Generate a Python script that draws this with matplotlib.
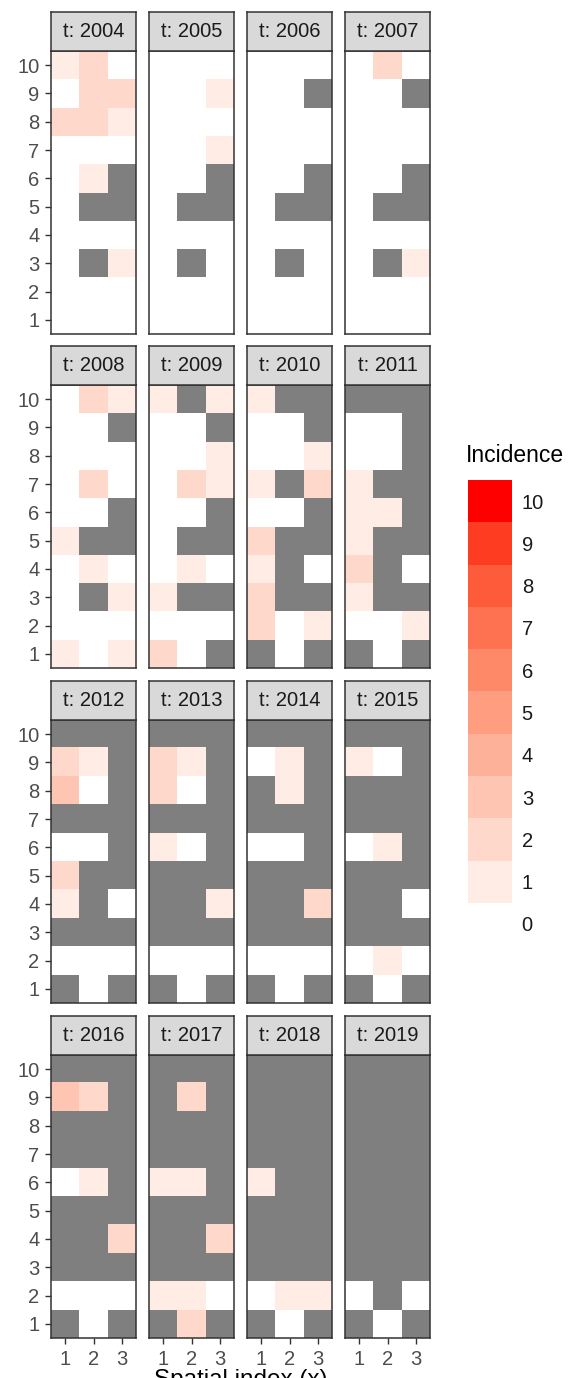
import numpy as np
import matplotlib
matplotlib.use("Agg")
import matplotlib.pyplot as plt
from matplotlib.colors import ListedColormap, Normalize

plt.rcParams['font.family'] = ['Liberation Sans', 'DejaVu Sans']

N = None
# Each grid: rows from y=10 (top) down to y=1, columns x=1,2,3 ; None = no data (grey)
years = [2004, 2005, 2006, 2007, 2008, 2009, 2010, 2011,
         2012, 2013, 2014, 2015, 2016, 2017, 2018, 2019]

inc_2004 = [[1, 2, 0], [0, 2, 2], [2, 2, 1], [0, 0, 0], [0, 1, N],
            [0, N, N], [0, 0, 0], [0, N, 1], [0, 0, 0], [0, 0, 0]]
inc_2005 = [[0, 0, 0], [0, 0, 1], [0, 0, 0], [0, 0, 1], [0, 0, N],
            [0, N, N], [0, 0, 0], [0, N, 0], [0, 0, 0], [0, 0, 0]]
inc_2006 = [[0, 0, 0], [0, 0, N], [0, 0, 0], [0, 0, 0], [0, 0, N],
            [0, N, N], [0, 0, 0], [0, N, 0], [0, 0, 0], [0, 0, 0]]
inc_2007 = [[0, 2, 0], [0, 0, N], [0, 0, 0], [0, 0, 0], [0, 0, N],
            [0, N, N], [0, 0, 0], [0, N, 1], [0, 0, 0], [0, 0, 0]]
inc_2008 = [[0, 2, 1], [0, 0, N], [0, 0, 0], [0, 2, 0], [0, 0, N],
            [1, N, N], [0, 1, 0], [0, N, 1], [0, 0, 0], [1, 0, 1]]
inc_2009 = [[1, N, 1], [0, 0, N], [0, 0, 1], [0, 2, 1], [0, 0, N],
            [0, N, N], [0, 1, 0], [1, N, N], [0, 0, 0], [2, 0, N]]
inc_2010 = [[1, N, N], [0, 0, N], [0, 0, 1], [1, N, 2], [0, 0, N],
            [2, N, N], [1, N, 0], [2, N, N], [2, 0, 1], [N, 0, N]]
inc_2011 = [[N, N, N], [0, 0, N], [0, 0, N], [1, N, N], [1, 1, N],
            [1, N, N], [2, N, 0], [1, N, N], [0, 0, 1], [N, 0, N]]
inc_2012 = [[N, N, N], [2, 1, N], [3, 0, N], [N, N, N], [0, 0, N],
            [2, N, N], [1, N, 0], [N, N, N], [0, 0, 0], [N, 0, N]]
inc_2013 = [[N, N, N], [2, 1, N], [2, 0, N], [N, N, N], [1, 0, N],
            [N, N, N], [N, N, 1], [N, N, N], [0, 0, 0], [N, 0, N]]
inc_2014 = [[N, N, N], [0, 1, N], [N, 1, N], [N, N, N], [0, 0, N],
            [N, N, N], [N, N, 2], [N, N, N], [0, 0, 0], [N, 0, N]]
inc_2015 = [[N, N, N], [1, 0, N], [N, N, N], [N, N, N], [0, 1, N],
            [N, N, N], [N, N, 0], [N, N, N], [0, 1, 0], [N, 0, N]]
inc_2016 = [[N, N, N], [3, 2, N], [N, N, N], [N, N, N], [0, 1, N],
            [N, N, N], [N, N, 2], [N, N, N], [0, 0, 0], [N, 0, N]]
inc_2017 = [[N, N, N], [N, 2, N], [N, N, N], [N, N, N], [1, 1, N],
            [N, N, N], [N, N, 2], [N, N, N], [1, 1, 0], [N, 2, N]]
inc_2018 = [[N, N, N], [N, N, N], [N, N, N], [N, N, N], [1, N, N],
            [N, N, N], [N, N, N], [N, N, N], [0, 1, 1], [N, 0, N]]
inc_2019 = [[N, N, N], [N, N, N], [N, N, N], [N, N, N], [N, N, N],
            [N, N, N], [N, N, N], [N, N, N], [0, N, 0], [N, 0, N]]

grids = [inc_2004, inc_2005, inc_2006, inc_2007, inc_2008, inc_2009, inc_2010, inc_2011,
         inc_2012, inc_2013, inc_2014, inc_2015, inc_2016, inc_2017, inc_2018, inc_2019]

x_ticks = [1, 2, 3]
y_ticks = [1, 2, 3, 4, 5, 6, 7, 8, 9, 10]
legend_levels = [0, 1, 2, 3, 4, 5, 6, 7, 8, 9, 10]
facet_name = "t"
x_title = "Spatial index (x)"
legend_title = "Incidence"


# ---- white -> red gradient interpolated in CIE Lab (like ggplot's scale_fill_gradient)
def _lin(c):
    return np.where(c <= 0.04045, c / 12.92, ((c + 0.055) / 1.055) ** 2.4)


def _gam(c):
    c = np.clip(c, 0, 1)
    return np.where(c <= 0.0031308, 12.92 * c, 1.055 * c ** (1 / 2.4) - 0.055)


_M = np.array([[0.4124, 0.3576, 0.1805], [0.2126, 0.7152, 0.0722], [0.0193, 0.1192, 0.9505]])
_WP = np.array([0.95047, 1.0, 1.08883])


def rgb2lab(rgb):
    xyz = _M @ _lin(np.asarray(rgb, float)) / _WP
    f = np.where(xyz > 0.008856, np.cbrt(xyz), 7.787 * xyz + 16 / 116)
    return np.array([116 * f[1] - 16, 500 * (f[0] - f[1]), 200 * (f[1] - f[2])])


def lab2rgb(lab):
    L, a, b = lab
    fy = (L + 16) / 116
    fx = fy + a / 500
    fz = fy - b / 200
    f = np.array([fx, fy, fz])
    xyz = np.where(f ** 3 > 0.008856, f ** 3, (f - 16 / 116) / 7.787) * _WP
    return _gam(np.linalg.inv(_M) @ xyz)


lo, hi = rgb2lab([1, 1, 1]), rgb2lab([1, 0, 0])
cols = [lab2rgb(lo + (hi - lo) * t) for t in np.linspace(0, 1, 256)]
cols[0] = np.array([1.0, 1.0, 1.0])
cols[-1] = np.array([1.0, 0.0, 0.0])
cmap = ListedColormap(cols)
cmap.set_bad('#7F7F7F')
norm = Normalize(0, 10)

W, H = 568, 1378
fig = plt.figure(figsize=(W / 100, H / 100), dpi=100)
fig.patch.set_facecolor('white')


def px_axes(left, top, width, height, **kw):
    return fig.add_axes([left / W, 1 - (top + height) / H, width / W, height / H], **kw)


border = '#333333'
tick_fs = 14.5
col_left = [51, 149, 247, 345]
panel_w = 85
strip_h = 39
panel_h = 283
row_top = [12, 346, 681, 1016]

for i, (yr, g) in enumerate(zip(years, grids)):
    r, c = divmod(i, 4)
    arr = np.array([[np.nan if v is None else v for v in row] for row in g], float)[::-1]
    data = np.ma.masked_invalid(arr)
    ax = px_axes(col_left[c], row_top[r] + strip_h, panel_w, panel_h)
    ax.imshow(data, cmap=cmap, norm=norm, origin='lower', aspect='auto',
              extent=(0.5, 3.5, 0.5, 10.5), interpolation='nearest')
    ax.set_xlim(0.5, 3.5)
    ax.set_ylim(0.5, 10.5)
    for s in ax.spines.values():
        s.set_color(border)
        s.set_linewidth(1.1)
    ax.set_xticks(x_ticks)
    ax.set_yticks(y_ticks)
    ax.tick_params(colors=border, labelcolor='#4D4D4D', labelsize=tick_fs,
                   length=4.3, width=1.0)
    ax.tick_params(axis='y', pad=4)
    ax.tick_params(axis='x', pad=4)
    if c != 0:
        ax.tick_params(axis='y', left=False, labelleft=False)
    if r != 3:
        ax.tick_params(axis='x', bottom=False, labelbottom=False)
    # strip
    sax = px_axes(col_left[c], row_top[r], panel_w, strip_h)
    sax.set_facecolor('#D9D9D9')
    sax.set_xticks([])
    sax.set_yticks([])
    for s in sax.spines.values():
        s.set_color(border)
        s.set_linewidth(1.1)
    sax.text(0.5, 0.5, f"{facet_name}: {yr}", ha='center', va='center',
             fontsize=tick_fs, color='#1A1A1A', transform=sax.transAxes)

# x axis title: in the reference it sits at the very bottom edge and is partly clipped
fig.text(241 / W, 1 - 1369 / H, x_title, ha='center', va='top', fontsize=17.5, color='black')

# legend
lax = px_axes(468, 480, 44, 465)
lev = np.array(legend_levels, float)[:, None]
lax.imshow(lev, cmap=cmap, norm=norm, origin='lower', aspect='auto',
           extent=(0, 1, -0.5, 10.5), interpolation='nearest')
lax.set_xlim(0, 1)
lax.set_ylim(-0.5, 10.5)
for s in lax.spines.values():
    s.set_visible(False)
lax.set_xticks([])
lax.yaxis.tick_right()
lax.set_yticks(legend_levels)
lax.set_yticklabels([str(v) for v in legend_levels])
lax.tick_params(axis='y', length=0, pad=7, labelsize=tick_fs, labelcolor='#1A1A1A')
fig.text(466 / W, 1 - 456 / H, legend_title, ha='left', va='center', fontsize=16.5, color='black')

fig.savefig('out.png', dpi=100, facecolor='white')
